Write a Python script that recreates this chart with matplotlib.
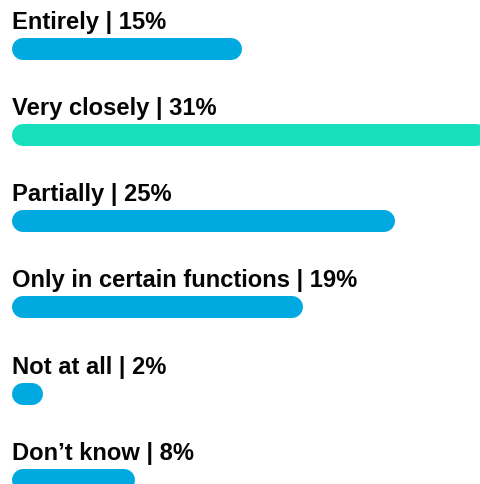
import matplotlib
matplotlib.use("Agg")
import matplotlib.pyplot as plt

labels = ["Entirely", "Very closely", "Partially", "Only in certain functions", "Not at all", "Don\u2019t know"]
values = [15, 31, 25, 19, 2, 8]
colors = ["#00A9E0", "#15DFBC", "#00A9E0", "#00A9E0", "#00A9E0", "#00A9E0"]

W, H = 480, 485
fig = plt.figure(figsize=(W / 100, H / 100), dpi=100)
ax = fig.add_axes([0, 0, 1, 1])
ax.set_xlim(0, W)
ax.set_ylim(H, 0)
ax.axis("off")

x0 = 12
px_per_pct = 15.33
bar_h = 22
first_y = 49.5
step = 86.3
lw = bar_h * 72 / 100  # pixel height -> points

for i, (lab, v, c) in enumerate(zip(labels, values, colors)):
    yc = first_y + i * step
    w = v * px_per_pct
    # rounded bar: thick line with round caps, caps take half the height at each end
    ax.plot([x0 + bar_h / 2, x0 + w - bar_h / 2], [yc, yc], color=c, lw=lw,
            solid_capstyle="round")
    ax.text(x0 - 0.5, yc - 21, f"{lab} | {v}%", fontsize=17.1, fontweight="bold",
            family=["Liberation Sans", "DejaVu Sans"], color="#050505",
            va="baseline", ha="left")

fig.savefig("out.png", dpi=100)
